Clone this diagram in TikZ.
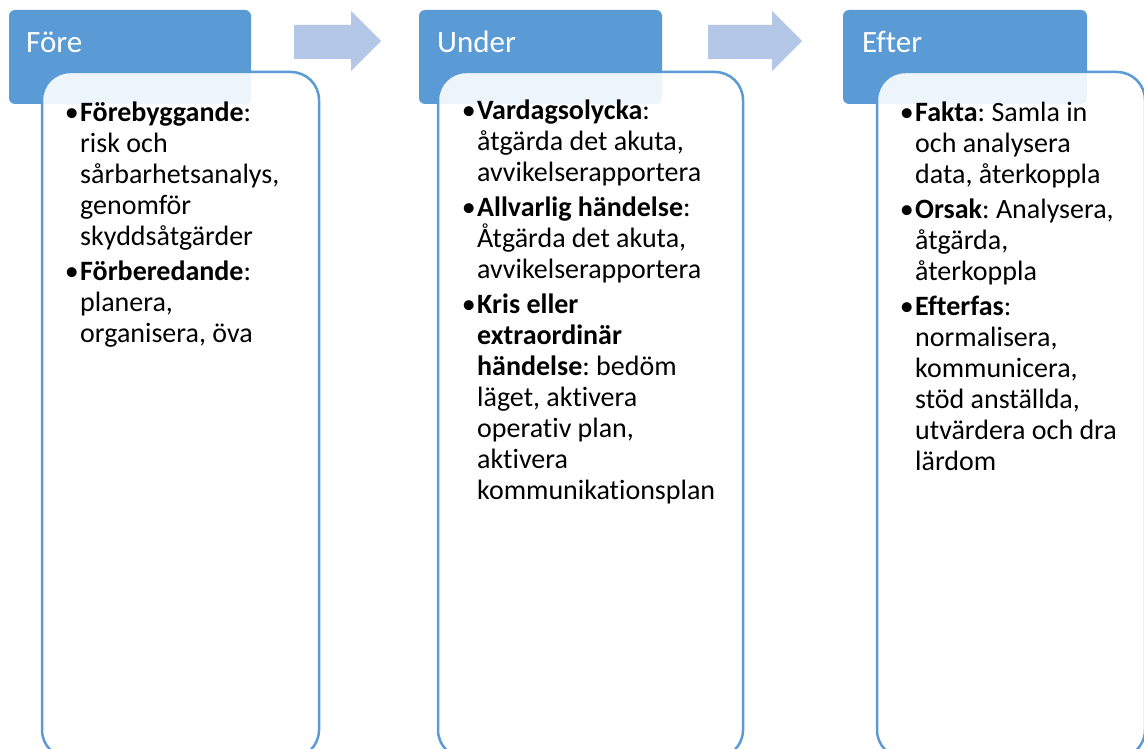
\documentclass[tikz,border=0pt]{standalone}
\usepackage{fontspec}
\setmainfont{Carlito}[Ligatures=CommonOff]
\definecolor{accent}{HTML}{5B9BD5}
\definecolor{arrowfill}{HTML}{B4C7E7}
\tikzset{
  hdrbox/.style={fill=accent, draw=none, rounded corners=6pt},
  hdrlabel/.style={text=white, font=\fontsize{31pt}{37pt}\selectfont, inner sep=0pt, anchor=base west},
  contentbox/.style={fill=white, fill opacity=0.9, draw=accent, draw opacity=1, line width=2.5pt, rounded corners=28pt},
  bodytext/.style={font=\fontsize{28pt}{31pt}\selectfont, inner sep=0pt, anchor=base west, text=black}
}
\newcommand{\bul}{\leavevmode\llap{•\kern1.5pt}}
\newcommand{\bodypar}[1]{\parbox[t]{300pt}{\raggedright\frenchspacing\parindent=0pt #1}}
\begin{document}
\begin{tikzpicture}[x=1pt, y=-1pt]
\useasboundingbox (0,0) rectangle (1144,749);
\fill[white] (0,0) rectangle (1144,749);
\clip (0,0) rectangle (1144,749);

% block arrows
\fill[arrowfill] (294,25) -- (351,25) -- (351,11) -- (381,41) -- (351,71) -- (351,59) -- (294,59) -- cycle;
\fill[arrowfill] (708,25) -- (772,25) -- (772,11) -- (802,41) -- (772,71) -- (772,59) -- (708,59) -- cycle;

% headers
\path[hdrbox] (9,10) rectangle (251,104);
\path[hdrbox] (419,10) rectangle (662,104);
\path[hdrbox] (843,10) rectangle (1087,104);
\node[hdrlabel] (l1) at (26,53) {Före};
\node[hdrlabel] (l2) at (437,53) {Under};
\node[hdrlabel] (l3) at (862,53) {Efter};

% content boxes
\path[contentbox] (42,72) rectangle (319,758);
\path[contentbox] (438,72) rectangle (743,758);
\path[contentbox] (877,72) rectangle (1145,758);

% texts
\node[bodytext] (t1) at (80,122) {\bodypar{\bul\textbf{Förebyggande}:\\
risk och\\
sårbarhetsanalys,\\
genomför\\
skyddsåtgärder\\[4pt]
\bul\textbf{Förberedande}:\\
planera,\\
organisera, öva}};

\node[bodytext] (t2) at (477,120) {\bodypar{\bul\textbf{Vardagsolycka}:\\
åtgärda det akuta,\\
avvikelserapportera\\[4pt]
\bul\textbf{Allvarlig händelse}:\\
Åtgärda det akuta,\\
avvikelserapportera\\[4pt]
\bul\textbf{Kris eller}\\
\textbf{extraordinär}\\
\textbf{händelse}: bedöm\\
läget, aktivera\\
operativ plan,\\
aktivera\\
kommunikationsplan}};

\node[bodytext] (t3) at (915,122) {\bodypar{\bul\textbf{Fakta}: Samla in\\
och analysera\\
data, återkoppla\\[4pt]
\bul\textbf{Orsak}: Analysera,\\
åtgärda,\\
återkoppla\\[4pt]
\bul\textbf{Efterfas}:\\
normalisera,\\
kommunicera,\\
stöd anställda,\\
utvärdera och dra\\
lärdom}};
\end{tikzpicture}
\end{document}
